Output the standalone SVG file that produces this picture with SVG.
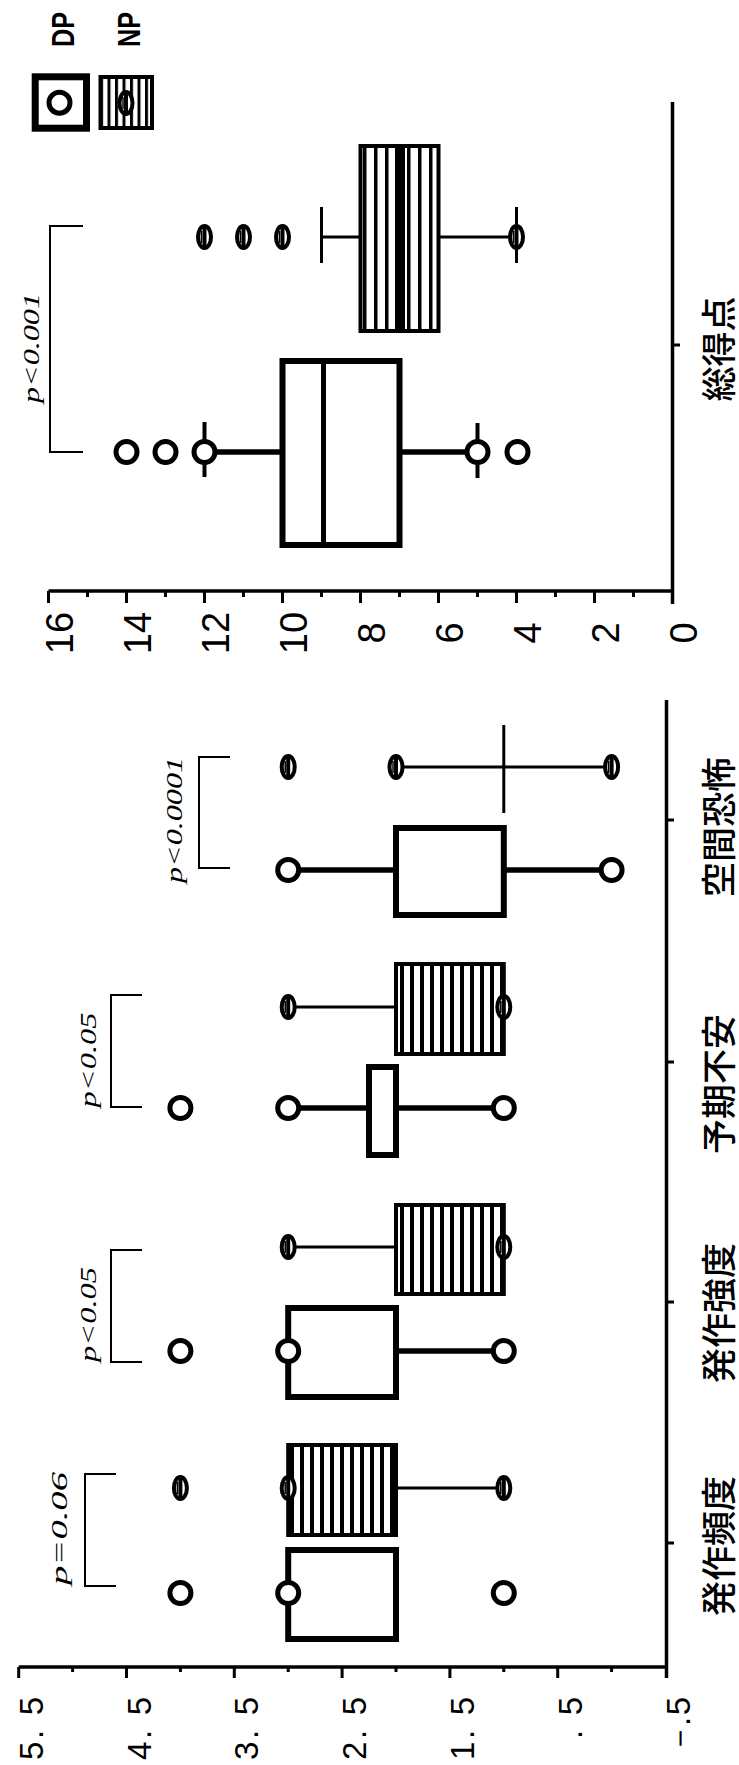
<svg xmlns="http://www.w3.org/2000/svg" width="739" height="1765" viewBox="0 0 739 1765">
<style>
.ax{stroke:#000;stroke-width:3.5;fill:none}
.tk{stroke:#000;stroke-width:3;fill:none}
.br{stroke:#000;stroke-width:2;fill:none}
.dpbox{fill:#fff;stroke:#000;stroke-width:6}
.npbox{fill:url(#st);stroke:#000;stroke-width:4}
.dpw{stroke:#000;stroke-width:5.5;fill:none}
.npw{stroke:#000;stroke-width:3;fill:none}
.cap{stroke:#000;stroke-width:4;fill:none}
.dpc{fill:#fff;stroke:#000;stroke-width:5}
.num{font-family:"Liberation Sans",Arial,sans-serif;fill:#000}
.cat{font-family:"Noto Sans CJK JP","Noto Sans CJK SC",sans-serif;font-size:35px;font-weight:500;fill:#000}
.pv{font-family:"Liberation Serif","Times New Roman",serif;font-style:italic;font-size:23px;fill:#000}
.leg{font-family:"Liberation Sans",Arial,sans-serif;font-weight:bold;font-size:31px;fill:#000}
</style>
<defs>
<pattern id="st" patternUnits="userSpaceOnUse" x="0" y="0" width="10" height="10"><rect width="10" height="10" fill="#fff"/><rect width="4" height="10" fill="#000"/></pattern>
<pattern id="st2" patternUnits="userSpaceOnUse" x="363" y="0" width="11" height="10"><rect width="11" height="10" fill="#fff"/><rect x="0" width="3.5" height="10" fill="#000"/></pattern>
<pattern id="st3" patternUnits="userSpaceOnUse" x="100" y="0" width="7.5" height="10"><rect width="7.5" height="10" fill="#fff"/><rect width="3" height="10" fill="#000"/></pattern>
<g id="np"><ellipse rx="6.5" ry="11" fill="#fff" stroke="#000" stroke-width="4"/><line x1="0" y1="-10" x2="0" y2="10" stroke="#000" stroke-width="4"/><line x1="-3" y1="-6" x2="-3" y2="6" stroke="#000" stroke-width="1.5"/></g>
</defs>

<!-- legend -->
<g id="legend">
<rect x="35.2" y="76.8" width="51.3" height="51.4" fill="#fff" stroke="#000" stroke-width="7"/>
<circle cx="59.5" cy="102.7" r="10.5" class="dpc"/>
<rect x="100.5" y="77" width="51.5" height="51" fill="url(#st3)" stroke="#000" stroke-width="4"/>
<use href="#np" x="126" y="103"/>
<text class="leg" transform="translate(73.5,29.5) rotate(-90)" text-anchor="middle" textLength="35" lengthAdjust="spacingAndGlyphs">DP</text>
<text class="leg" transform="translate(139.7,29.5) rotate(-90)" text-anchor="middle" textLength="35" lengthAdjust="spacingAndGlyphs">NP</text>
</g>

<!-- top panel axes -->
<g id="top-axis">
<line class="ax" x1="48.5" y1="591" x2="672.5" y2="591"/>
<line class="ax" x1="672.5" y1="102" x2="672.5" y2="604"/>
<line class="tk" x1="672.5" y1="345" x2="680" y2="345"/>
<path class="tk" d="M48.5 591V603M126.5 591V603M204.5 591V603M282.5 591V603M360.5 591V603M438.5 591V603M516.5 591V603M594.5 591V603M87.5 591V597M165.5 591V597M243.5 591V597M321.5 591V597M399.5 591V597M477.5 591V597M555.5 591V597M633.5 591V597"/>
<g class="num" font-size="38" text-anchor="middle">
<text transform="translate(72.5,633) rotate(-90)">16</text>
<text transform="translate(150.5,633) rotate(-90)">14</text>
<text transform="translate(228.5,633) rotate(-90)">12</text>
<text transform="translate(306.5,633) rotate(-90)">10</text>
<text transform="translate(384.5,633) rotate(-90)">8</text>
<text transform="translate(462.5,633) rotate(-90)">6</text>
<text transform="translate(540.5,633) rotate(-90)">4</text>
<text transform="translate(618.5,633) rotate(-90)">2</text>
<text transform="translate(696.5,633) rotate(-90)">0</text>
</g>
<text class="cat" transform="translate(716,349) rotate(-90)" text-anchor="middle" dominant-baseline="central">総得点</text>
</g>

<!-- top panel data -->
<g id="total">
<polyline class="br" points="83,226 50,226 50,452 83,452"/>
<text class="pv" transform="translate(39,348) rotate(-90)" text-anchor="middle" textLength="110" lengthAdjust="spacingAndGlyphs">p&lt;0.001</text>
<rect x="360.5" y="146" width="78" height="185" fill="url(#st2)" stroke="#000" stroke-width="4"/>
<rect x="395" y="146" width="10" height="185" fill="#000"/>
<line class="npw" x1="321.5" y1="237" x2="360.5" y2="237"/>
<line class="npw" x1="438.5" y1="237" x2="516.5" y2="237"/>
<line class="npw" x1="321.5" y1="207" x2="321.5" y2="263"/>
<line class="npw" x1="516.5" y1="207" x2="516.5" y2="263"/>
<use href="#np" x="204.5" y="237"/>
<use href="#np" x="243.5" y="237"/>
<use href="#np" x="282.5" y="237"/>
<use href="#np" x="516.5" y="237"/>
<rect class="dpbox" x="282.5" y="361" width="117" height="184"/>
<line stroke="#000" stroke-width="5" x1="323.5" y1="361" x2="323.5" y2="545"/>
<line class="dpw" x1="204.5" y1="452" x2="282.5" y2="452"/>
<line class="dpw" x1="399.5" y1="452" x2="477.5" y2="452"/>
<circle class="dpc" cx="204.5" cy="452" r="10.5"/>
<circle class="dpc" cx="477.5" cy="452" r="10.5"/>
<circle class="dpc" cx="126.5" cy="452" r="10.5"/>
<circle class="dpc" cx="165.5" cy="452" r="10.5"/>
<circle class="dpc" cx="517.5" cy="452" r="10.5"/>
<line class="cap" x1="204.5" y1="422" x2="204.5" y2="441"/>
<line class="cap" x1="204.5" y1="463" x2="204.5" y2="477"/>
<line class="cap" x1="477.5" y1="423" x2="477.5" y2="441"/>
<line class="cap" x1="477.5" y1="463" x2="477.5" y2="478"/>
</g>

<!-- left panel axes -->
<g id="left-axis">
<line class="ax" x1="18.7" y1="1667" x2="666.5" y2="1667"/>
<line class="ax" x1="666.5" y1="700" x2="666.5" y2="1678"/>
<path class="tk" d="M18.7 1667V1678M126.5 1667V1678M234.3 1667V1678M342.1 1667V1678M449.9 1667V1678M557.7 1667V1678M72.6 1667V1672M180.4 1667V1672M288.2 1667V1672M396 1667V1672M503.8 1667V1672M611.6 1667V1672M666.5 820H674M666.5 1062H674M666.5 1302H674M666.5 1543H674"/>
<g class="num" font-size="33" text-anchor="end">
<text transform="translate(42.7,1697) rotate(-90)" textLength="63" lengthAdjust="spacing">5. 5</text>
<text transform="translate(150.5,1697) rotate(-90)" textLength="63" lengthAdjust="spacing">4. 5</text>
<text transform="translate(258.3,1697) rotate(-90)" textLength="63" lengthAdjust="spacing">3. 5</text>
<text transform="translate(366.1,1697) rotate(-90)" textLength="63" lengthAdjust="spacing">2. 5</text>
<text transform="translate(473.9,1697) rotate(-90)" textLength="63" lengthAdjust="spacing">1. 5</text>
<text transform="translate(581.7,1697) rotate(-90)" textLength="42" lengthAdjust="spacing">. 5</text>
<text transform="translate(689.5,1697) rotate(-90)" textLength="58" lengthAdjust="spacing">－. 5</text>
</g>
<g class="cat" text-anchor="middle" dominant-baseline="central">
<text transform="translate(716,827) rotate(-90)">空間恐怖</text>
<text transform="translate(716,1084) rotate(-90)">予期不安</text>
<text transform="translate(716,1313) rotate(-90)">発作強度</text>
<text transform="translate(716,1546) rotate(-90)">発作頻度</text>
</g>
</g>

<!-- 空間恐怖 -->
<g id="agoraphobia">
<polyline class="br" points="230,757 199,757 199,868 230,868"/>
<text class="pv" transform="translate(182,820) rotate(-90)" text-anchor="middle" textLength="126" lengthAdjust="spacingAndGlyphs">p&lt;0.0001</text>
<line class="npw" x1="396" y1="767" x2="611.6" y2="767"/>
<line class="npw" x1="503.8" y1="725" x2="503.8" y2="813"/>
<use href="#np" x="288.2" y="767"/>
<use href="#np" x="396" y="767"/>
<use href="#np" x="611.6" y="767"/>
<line class="dpw" x1="288.2" y1="870" x2="396" y2="870"/>
<line class="dpw" x1="503.8" y1="870" x2="611.6" y2="870"/>
<rect class="dpbox" x="396" y="828" width="107.8" height="87"/>
<circle class="dpc" cx="288.2" cy="870" r="10.5"/>
<circle class="dpc" cx="611.6" cy="870" r="10.5"/>
</g>

<!-- 予期不安 -->
<g id="anticipatory">
<polyline class="br" points="142,995 111,995 111,1107 142,1107"/>
<text class="pv" transform="translate(96,1060) rotate(-90)" text-anchor="middle" textLength="95" lengthAdjust="spacingAndGlyphs">p&lt;0.05</text>
<rect class="npbox" x="396" y="964" width="107.8" height="90"/>
<line class="npw" x1="288.2" y1="1007" x2="396" y2="1007"/>
<use href="#np" x="288.2" y="1007"/>
<use href="#np" x="503.8" y="1007"/>
<line class="dpw" x1="288.2" y1="1108" x2="369" y2="1108"/>
<line class="dpw" x1="396" y1="1108" x2="503.8" y2="1108"/>
<rect class="dpbox" x="369" y="1067" width="27" height="88"/>
<circle class="dpc" cx="288.2" cy="1108" r="10.5"/>
<circle class="dpc" cx="503.8" cy="1108" r="10.5"/>
<circle class="dpc" cx="180.4" cy="1108" r="10.5"/>
</g>

<!-- 発作強度 -->
<g id="intensity">
<polyline class="br" points="142,1250 111,1250 111,1362 142,1362"/>
<text class="pv" transform="translate(96,1314.5) rotate(-90)" text-anchor="middle" textLength="95" lengthAdjust="spacingAndGlyphs">p&lt;0.05</text>
<rect class="npbox" x="396" y="1205" width="107.8" height="89"/>
<line class="npw" x1="288.2" y1="1247" x2="396" y2="1247"/>
<use href="#np" x="288.2" y="1247"/>
<use href="#np" x="503.8" y="1247"/>
<line class="dpw" x1="396" y1="1351" x2="503.8" y2="1351"/>
<rect class="dpbox" x="288.2" y="1308" width="107.8" height="89"/>
<circle class="dpc" cx="288.2" cy="1351" r="10.5"/>
<circle class="dpc" cx="503.8" cy="1351" r="10.5"/>
<circle class="dpc" cx="180.4" cy="1351" r="10.5"/>
</g>

<!-- 発作頻度 -->
<g id="frequency">
<polyline class="br" points="116,1474 85,1474 85,1586 116,1586"/>
<text class="pv" transform="translate(67,1528.5) rotate(-90)" text-anchor="middle" textLength="113" lengthAdjust="spacingAndGlyphs">p=0.06</text>
<rect class="npbox" x="288.2" y="1445" width="107.8" height="90"/>
<line class="npw" x1="396" y1="1488" x2="503.8" y2="1488"/>
<use href="#np" x="180.4" y="1488"/>
<use href="#np" x="288.2" y="1488"/>
<use href="#np" x="503.8" y="1488"/>
<rect class="dpbox" x="288.2" y="1550" width="107.8" height="89"/>
<circle class="dpc" cx="288.2" cy="1593" r="10.5"/>
<circle class="dpc" cx="180.4" cy="1593" r="10.5"/>
<circle class="dpc" cx="503.8" cy="1593" r="10.5"/>
</g>
</svg>
